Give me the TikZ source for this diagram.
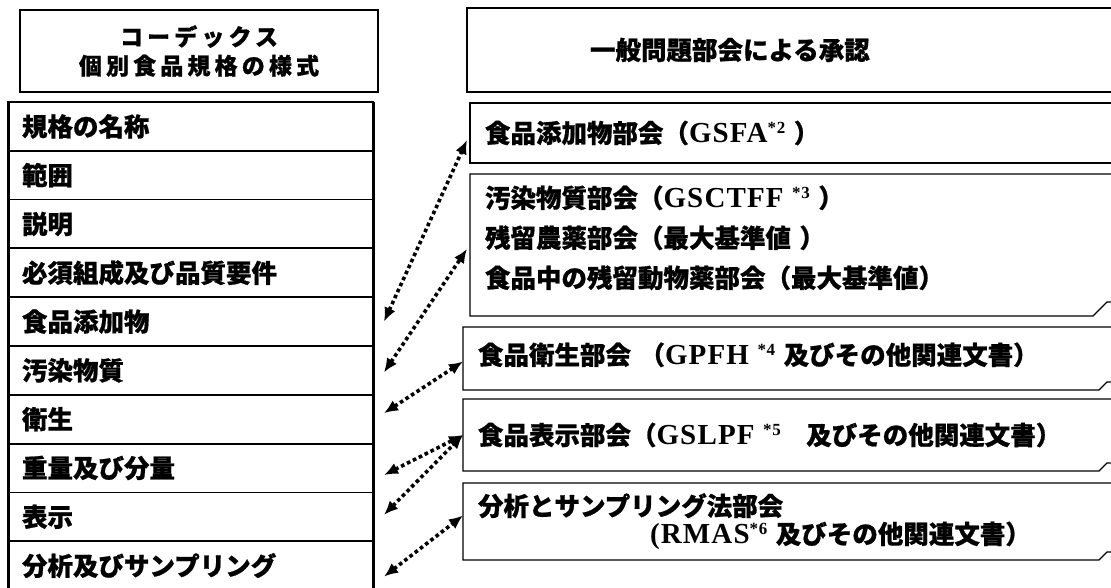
\documentclass[tikz,border=0pt]{standalone}
\usepackage{fontspec}
\setmainfont{Noto Sans CJK JP}[BoldFeatures={FakeBold=0.8}]
\newfontfamily\latinfont{Liberation Serif}[LetterSpace=4]
\usetikzlibrary{arrows.meta, positioning, calc}

\newcommand{\abbr}[1]{{\latinfont\bfseries\fontsize{29}{29}\selectfont #1}}
\newcommand{\fnote}[1]{\raisebox{9pt}{\latinfont\bfseries\fontsize{17}{17}\selectfont *#1}}
\newcommand{\foldbox}[2]{%
  \draw[boxline] ($(#1.north east)+(20,0)$) -- (#1.north west) -- (#1.south west)
    -- ($(#1.south east)+(-#2-4,0)$) -- ($(#1.south east)+(-4,-#2)$) -- ($(#1.south east)+(2,-#2)$);
}

\begin{document}
\begin{tikzpicture}[
    x=1pt, y=-1pt,
    font=\bfseries\fontsize{25.5}{30}\selectfont,
    hdr/.style={draw, line width=2.2pt, inner ysep=0pt, outer sep=0pt},
    row/.style={draw, line width=1.8pt, outer sep=0pt, anchor=north west, minimum height=48.8pt, text width=337pt, inner xsep=14pt, inner ysep=0pt, align=left},
    cmte/.style={outer sep=0pt, anchor=north west, inner xsep=15pt, inner ysep=0pt, align=left},
    boxline/.style={line width=1.3pt},
    link/.style={{Latex[length=14pt,width=12pt]}-{Latex[length=14pt,width=12pt]}, line width=3.6pt, dash pattern=on 3.6pt off 3pt}
]

    \useasboundingbox (0,0) rectangle (1111,588);

    % Codex format
    \node[hdr, anchor=north west, minimum width=358pt, minimum height=82pt, align=center,
          font=\bfseries\fontsize{23}{29}\selectfont\addfontfeature{LetterSpace=18}] (codex) at (20,10) {コーデックス\\個別食品規格の様式};

    \node[row] (r1) at (8,102) {規格の名称};
    \node[row, below=0pt of r1] (r2) {範囲};
    \node[row, below=0pt of r2] (r3) {説明};
    \node[row, below=0pt of r3] (r4) {必須組成及び品質要件};
    \node[row, below=0pt of r4] (r5) {食品添加物};
    \node[row, below=0pt of r5] (r6) {汚染物質};
    \node[row, below=0pt of r6] (r7) {衛生};
    \node[row, below=0pt of r7] (r8) {重量及び分量};
    \node[row, below=0pt of r8] (r9) {表示};
    \node[row, below=0pt of r9] (r10) {分析及びサンプリング};

    \draw[line width=3pt] (r1.north west) -- (r10.south west);
    \draw[line width=3pt] (r1.north east) -- (r10.south east);
    \draw[line width=2.6pt] (r1.north west) -- (r1.north east);

    % Committees
    \node[hdr, anchor=north west, minimum height=84pt, text width=500pt, inner xsep=123pt, align=left] (approval) at (467,8) {一般問題部会による承認};

    \node[cmte, draw, boxline, minimum height=60pt, text width=700pt] (gsfa) at (470,103) {食品添加物部会（\abbr{GSFA}\fnote{2} ）};

    \node[cmte, minimum height=142pt, text width=611pt, text depth=97pt, font=\bfseries\fontsize{25.5}{40}\selectfont] (contam) at (470,174)
        {汚染物質部会（\abbr{GSCTFF} \fnote{3} ）\\残留農薬部会（最大基準値 ）\\食品中の残留動物薬部会（最大基準値）};
    \foldbox{contam}{14}

    \node[cmte, minimum height=63pt, text width=618pt, text depth=10pt] (hygiene) at (463,327) {食品衛生部会 （\abbr{GPFH} \fnote{4} 及びその他関連文書）};
    \foldbox{hygiene}{8}

    \node[cmte, minimum height=72pt, text width=618pt] (labelling) at (463,399) {食品表示部会（\abbr{GSLPF} \fnote{5}　及びその他関連文書）};
    \foldbox{labelling}{8}

    \node[cmte, minimum height=77pt, text width=618pt, font=\bfseries\fontsize{25.5}{28}\selectfont] (methods) at (463,483)
        {分析とサンプリング法部会\\\hspace*{172pt}\abbr{(RMAS}\fnote{6} 及びその他関連文書）};
    \foldbox{methods}{8}

    % Links
    \draw[link] ($(r5.east)+(11,0)$) -- ($(gsfa.west)+(-3,7)$);
    \draw[link] ($(r6.east)+(11,2)$) -- ($(contam.west)+(-3,4)$);
    \draw[link] ($(r7.east)+(11,-6)$) -- ($(hygiene.west)+(0,3)$);
    \draw[link] ($(r8.east)+(11,7)$) -- (labelling.west);
    \draw[link] ($(r9.east)+(11,-2)$) -- (labelling.west);
    \draw[link] ($(r10.east)+(11,11)$) -- ($(methods.west)+(0,-6)$);

\end{tikzpicture}
\end{document}
